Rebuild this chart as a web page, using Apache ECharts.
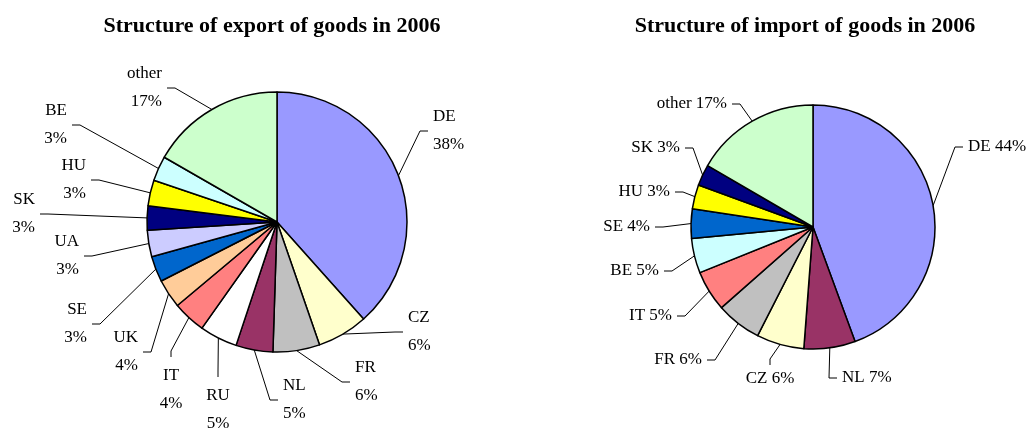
<!DOCTYPE html>
<html>
<head>
<meta charset="utf-8">
<title>Structure of export and import of goods in 2006</title>
<script src="https://cdn.jsdelivr.net/npm/echarts@6/dist/echarts.min.js"></script>
<style>
  html, body { margin: 0; padding: 0; background: #fff; }
  #chart { width: 1034px; height: 431px; }
</style>
</head>
<body>
<div id="chart"></div>
<script>
// export structure, share of total in %
const exportNames = ['DE', 'CZ', 'FR', 'NL', 'RU', 'IT', 'UK', 'SE', 'UA', 'SK', 'HU', 'BE', 'other'];
const exportValues = [38.4, 6.3, 5.8, 4.6, 4.7, 4.1, 3.6, 3.2, 3.3, 3.0, 3.2, 3.1, 16.7];

// import structure, share of total in %
const importNames = ['DE', 'NL', 'CZ', 'FR', 'IT', 'BE', 'SE', 'HU', 'SK', 'other'];
const importValues = [44.4, 6.8, 6.3, 6.0, 5.4, 4.6, 3.9, 3.2, 2.8, 16.6];

const sliceColors = {
  DE: '#9999ff', CZ: '#ffffcc', FR: '#c0c0c0', NL: '#993366', RU: '#ffffff',
  IT: '#ff8080', UK: '#ffcc99', SE: '#0066cc', UA: '#ccccff', SK: '#000080',
  HU: '#ffff00', BE: '#ccffff', other: '#ccffcc'
};

// where each leader line ends (px) and on which side the text sits: r / l / b(elow)
const exportLabelPos = {
  DE: [428, 131, 'r'], CZ: [403, 332, 'r'], FR: [350, 382, 'r'], NL: [278, 400, 'r'],
  RU: [218, 377, 'b'], IT: [171, 357, 'b'], UK: [143, 352, 'l'], SE: [92, 324, 'l'],
  UA: [84, 256, 'l'], SK: [40, 214, 'l'], HU: [91, 180, 'l'], BE: [72, 125, 'l'],
  other: [167, 88, 'l']
};
const importLabelPos = {
  DE: [963, 147, 'r'], NL: [837, 378, 'r'], CZ: [770, 365, 'b'], FR: [707, 360, 'l'],
  IT: [677, 316, 'l'], BE: [664, 271, 'l'], SE: [655, 227, 'l'], HU: [675, 192, 'l'],
  SK: [685, 148, 'l'], other: [732, 104, 'l']
};

const font = '"Liberation Serif", "Times New Roman", serif';

function toData(names, values) {
  return names.map((n, i) => ({
    name: n,
    value: values[i],
    itemStyle: { color: sliceColors[n] }
  }));
}

// move a label to its spot and draw the leader from the slice edge
function placeLabel(names, table) {
  return params => {
    const pos = table[names[params.dataIndex]];
    const start = params.labelLinePoints[0];
    const x = pos[0], y = pos[1], side = pos[2];
    if (side === 'b') {
      return {
        x: x, y: y + 5, align: 'center', verticalAlign: 'top',
        labelLinePoints: [start, [x, y - 6], [x, y]]
      };
    }
    const s = side === 'r' ? 1 : -1;
    return {
      x: x + s * 5, y: y, align: side === 'r' ? 'left' : 'right', verticalAlign: 'middle',
      labelLinePoints: [start, [x - s * 8, y], [x, y]]
    };
  };
}

let myChart = echarts.init(document.getElementById('chart'));

const option = {
  animation: false,
  title: [{
    text: 'Structure of export of goods in 2006',
    left: 267,
    top: 10,
    textAlign: 'center',
    textStyle: { fontFamily: font, fontSize: 22, fontWeight: 'bold', color: '#000' }
  }, {
    text: 'Structure of import of goods in 2006',
    left: 800,
    top: 10,
    textAlign: 'center',
    textStyle: { fontFamily: font, fontSize: 22, fontWeight: 'bold', color: '#000' }
  }],
  series: [{
    name: 'export',
    type: 'pie',
    center: [277, 222],
    radius: 130,
    startAngle: 90,
    clockwise: true,
    avoidLabelOverlap: false,
    data: toData(exportNames, exportValues),
    itemStyle: { borderColor: '#000', borderWidth: 1.5 },
    label: {
      formatter: p => p.name + '\n' + Math.round(p.value) + '%',
      fontFamily: font,
      fontSize: 17,
      lineHeight: 28,
      color: '#000'
    },
    labelLine: {
      length: 15,
      length2: 8,
      lineStyle: { color: '#000', width: 1 }
    },
    labelLayout: placeLabel(exportNames, exportLabelPos)
  }, {
    name: 'import',
    type: 'pie',
    center: [813, 227],
    radius: 122,
    startAngle: 90,
    clockwise: true,
    avoidLabelOverlap: false,
    data: toData(importNames, importValues),
    itemStyle: { borderColor: '#000', borderWidth: 1.5 },
    label: {
      formatter: p => p.name + ' ' + Math.round(p.value) + '%',
      fontFamily: font,
      fontSize: 17,
      color: '#000'
    },
    labelLine: {
      length: 15,
      length2: 8,
      lineStyle: { color: '#000', width: 1 }
    },
    labelLayout: placeLabel(importNames, importLabelPos)
  }]
};

myChart.setOption(option, true);

window.addEventListener('resize', () => {
  myChart.resize();
});
</script>
</body>
</html>
